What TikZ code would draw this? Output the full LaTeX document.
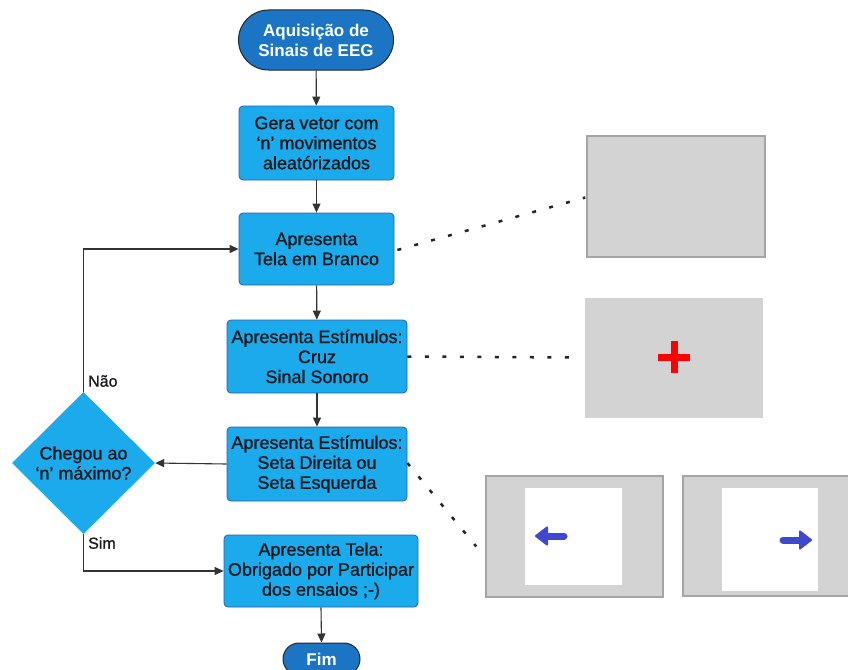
\documentclass[tikz,border=0pt]{standalone}
\usepackage{fontspec}
\setmainfont{Liberation Sans}
\newfontfamily\heavyfont{Liberation Sans}[FakeBold=1]
\usetikzlibrary{shapes.geometric,shapes.misc,arrows.meta}
\definecolor{termblue}{RGB}{28,117,196}
\definecolor{boxblue}{RGB}{27,170,236}
\definecolor{boxedge}{RGB}{40,95,175}
\definecolor{txt}{RGB}{25,25,30}
\definecolor{scr}{RGB}{211,211,211}
\definecolor{scredge}{RGB}{165,165,165}
\definecolor{arrblue}{RGB}{64,72,208}
\begin{document}
\begin{tikzpicture}[x=1pt,y=-1pt,
  term/.style={rounded rectangle, draw=black!85, line width=1pt, fill=termblue, text=white,
    font=\fontsize{17}{20}\selectfont\bfseries, align=center, inner sep=0pt},
  stepbox/.style={rectangle, rounded corners=4pt, draw=boxedge, line width=0.8pt, fill=boxblue,
    text=txt, font=\heavyfont\fontsize{18}{20}\selectfont, align=center, inner sep=0pt},
  decis/.style={diamond, fill=boxblue, text=txt, font=\heavyfont\fontsize{18}{20}\selectfont,
    align=center, inner sep=0pt, minimum width=143pt, minimum height=142pt},
  flow/.style={draw=black!80, line width=1.1pt, -{Triangle[length=9pt,width=8pt]}},
  dots/.style={draw=black!85, line width=2.5pt, dash pattern=on 4pt off 13.5pt},
  screen/.style={rectangle, fill=scr, draw=scredge, line width=1.5pt, inner sep=0pt},
  inner/.style={rectangle, fill=white, draw=none, inner sep=0pt},
  lbl/.style={text=txt, font=\heavyfont\fontsize{16}{18}\selectfont, inner sep=0pt, anchor=west},
  shaft/.style={draw=arrblue, line width=7pt, line cap=round},
  headtri/.style={fill=arrblue, draw=arrblue, line width=2pt, line join=round}
]
\useasboundingbox (0,0) rectangle (848,669);

% flowchart nodes
\node[term, minimum width=155pt, minimum height=60pt] (start) at (316,40) {Aquisição de\\Sinais de EEG};
\node[stepbox, minimum width=155pt, minimum height=74pt] (b1) at (316.5,143) {Gera vetor com\\‘n’ movimentos\\aleatórizados};
\node[stepbox, minimum width=155pt, minimum height=72pt] (b2) at (316.5,249) {Apresenta\\Tela em Branco};
\node[stepbox, minimum width=180pt, minimum height=73pt] (b3) at (317,356.5) {Apresenta Estímulos:\\Cruz\\Sinal Sonoro};
\node[stepbox, minimum width=180pt, minimum height=74pt] (b4) at (317,464) {Apresenta Estímulos:\\Seta Direita ou\\Seta Esquerda};
\node[decis] (dia) at (83.5,463) {Chegou ao\\‘n’ máximo?};
\node[stepbox, minimum width=194pt, minimum height=72pt] (b5) at (321,571) {Apresenta Tela:\\Obrigado por Participar\\dos ensaios ;-)};
\node[term, minimum width=77pt, minimum height=32pt] (fim) at (321.5,659) {Fim};

\node[lbl] (nao) at (88,381) {Não};
\node[lbl] (sim) at (88,543) {Sim};

% screens
\node[screen, minimum width=178pt, minimum height=121pt] (s1) at (676,196.5) {};
\node[screen, draw=scredge!50, line width=1pt, minimum width=177pt, minimum height=119pt] (s2) at (673.5,357.5) {};
\node[screen, minimum width=177pt, minimum height=121pt] (s3) at (574.5,536.5) {};
\node[screen, minimum width=180pt, minimum height=120pt] (s4) at (773,536) {};
\node[inner, minimum width=97pt, minimum height=97pt] (w3) at (573.5,536.5) {};
\node[inner, minimum width=96pt, minimum height=103pt] (w4) at (770,539.5) {};

% red cross
\coordinate (cx) at (674,357);
\draw[red, line width=7pt] ([xshift=-16pt]cx) -- ([xshift=16pt]cx);
\draw[red, line width=7pt] ([yshift=-16pt]cx) -- ([yshift=16pt]cx);

% blue arrows
\coordinate (la) at (536,536);
\coordinate (ra) at (811,540);
\draw[shaft] ([xshift=10pt]la) -- ([xshift=28pt]la);
\draw[headtri] (la) -- ([xshift=11pt,yshift=-8.5pt]la) -- ([xshift=11pt,yshift=8.5pt]la) -- cycle;
\draw[shaft] ([xshift=-10pt]ra) -- ([xshift=-28pt]ra);
\draw[headtri] (ra) -- ([xshift=-11pt,yshift=-8.5pt]ra) -- ([xshift=-11pt,yshift=8.5pt]ra) -- cycle;

% flow connectors
\draw[flow] (start) -- (b1);
\draw[flow] (b1) -- (b2);
\draw[flow] (b2) -- (b3);
\draw[flow] (b3) -- (b4);
\draw[flow] (b4.west) -- (dia.east);
\draw[flow] (dia.north) |- (b2.west);
\draw[flow] (dia.south) |- (b5.west);
\draw[flow] (b5.south) -- (fim.north);

% dotted links
\draw[dots] ([xshift=3pt,yshift=-1pt]b2.east) -- ([xshift=-1pt,yshift=-1pt]s1.west);
\draw[dots] (b3.east) -- ([xshift=-10pt]s2.west);
\draw[dots] ([yshift=1pt]b4.east) -- ([xshift=-9pt,yshift=-10pt]s3.west);
\end{tikzpicture}
\end{document}
